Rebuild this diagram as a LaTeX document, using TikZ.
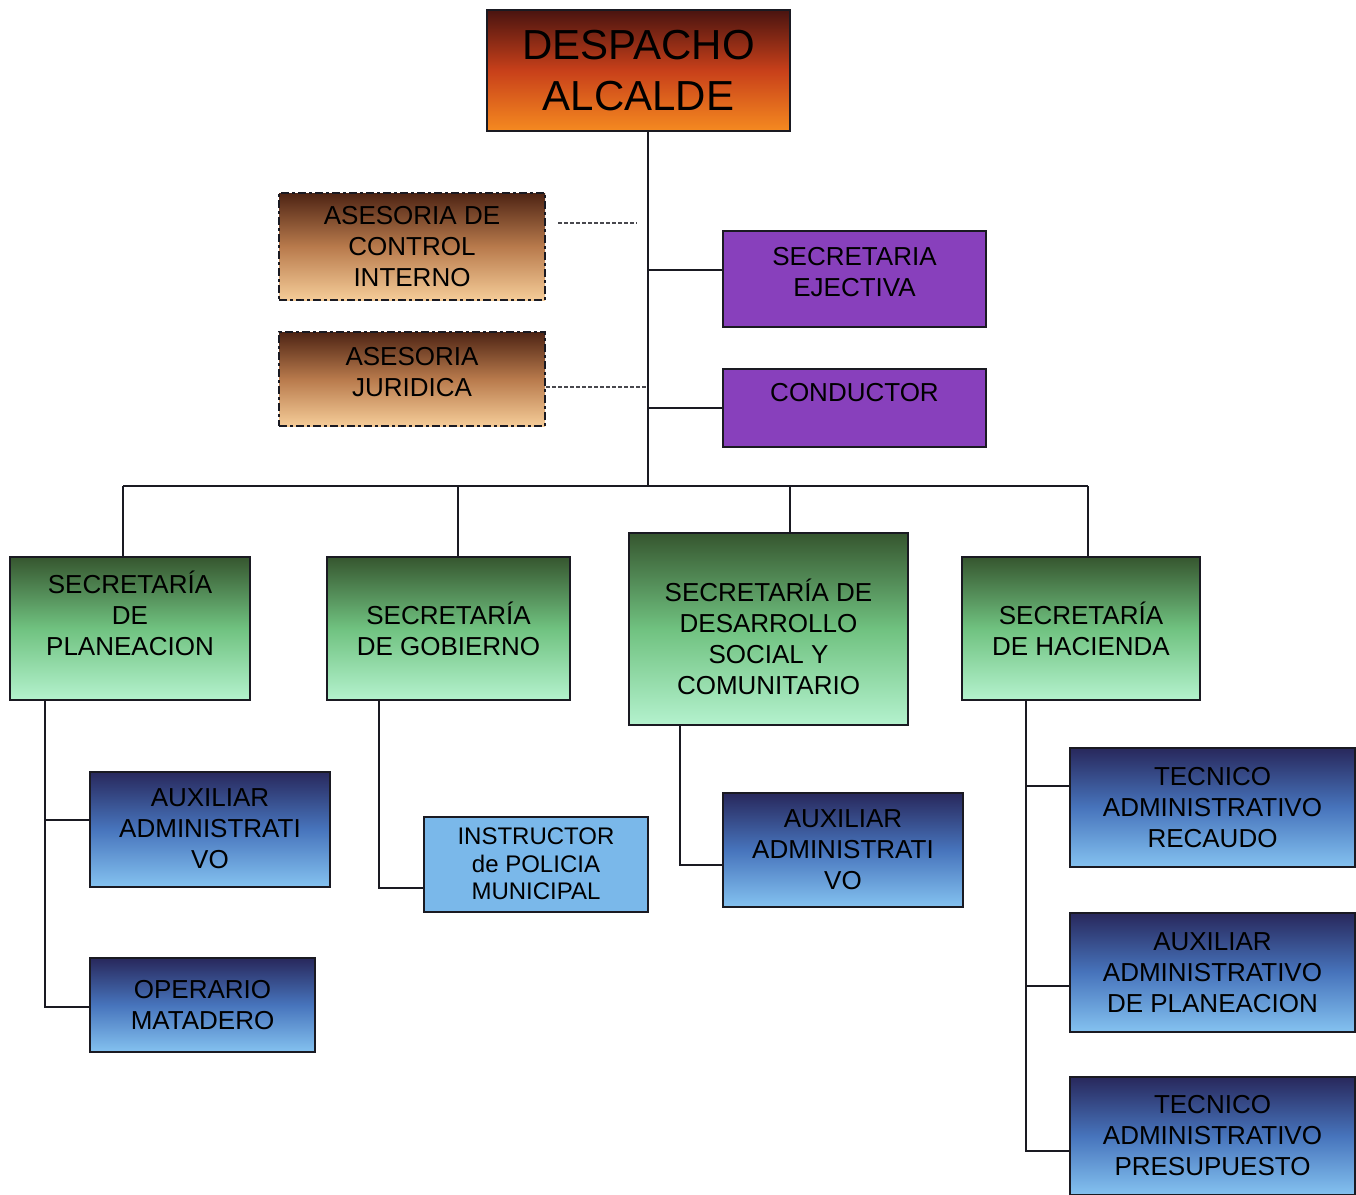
\documentclass[tikz,border=0pt]{standalone}
\usepackage{fontspec}
\setmainfont{Liberation Sans}
\definecolor{orT}{HTML}{4A1410}
\definecolor{orM}{HTML}{C8401A}
\definecolor{orB}{HTML}{F58A20}
\definecolor{brT}{HTML}{4E2414}
\definecolor{brM}{HTML}{B87A4C}
\definecolor{brB}{HTML}{F5CC98}
\definecolor{pur}{HTML}{8840BC}
\definecolor{grT}{HTML}{36562F}
\definecolor{grM}{HTML}{70C280}
\definecolor{grB}{HTML}{B4F2CE}
\definecolor{blT}{HTML}{28285C}
\definecolor{blM}{HTML}{4774BC}
\definecolor{blB}{HTML}{84C2F0}
\definecolor{blL}{HTML}{7AB8EA}
\definecolor{edge}{HTML}{1A1A22}
\begin{document}
\begin{tikzpicture}[x=0.5pt,y=-0.5pt,
  base/.style={draw=edge, line width=1pt, align=center, inner sep=0pt,
    font=\fontsize{13}{15.5}\selectfont},
  orangebox/.style={base, top color=orT, bottom color=orB, middle color=orM,
    font=\fontsize{21}{25.5}\selectfont},
  brownbox/.style={base, draw=edge, dash pattern=on 4pt off 1.5pt on 1.5pt off 1.5pt,
    top color=brT, bottom color=brB, middle color=brM},
  purplebox/.style={base, fill=pur},
  greenbox/.style={base, top color=grT, bottom color=grB, middle color=grM},
  bluebox/.style={base, top color=blT, bottom color=blB, middle color=blM},
  lightbox/.style={base, fill=blL, font=\fontsize{12}{13.75}\selectfont},
  link/.style={draw=edge, line width=1pt},
  dlink/.style={draw=edge!80, line width=0.8pt, dash pattern=on 2pt off 1pt}
]
\useasboundingbox (0,0) rectangle (1356,1195);

% top level
\node[orangebox, minimum width=151.5pt, minimum height=60.5pt] (alc) at (638.5,70.5) {DESPACHO\\ALCALDE};

% advisors
\node[brownbox, minimum width=133pt, minimum height=53.5pt] (aci) at (412,246.5) {ASESORIA DE\\CONTROL\\INTERNO};
\node[brownbox, minimum width=133pt, minimum height=47pt] (aju) at (412,379) {ASESORIA\\JURIDICA\\[-8pt]~};

% staff
\node[purplebox, minimum width=131.5pt, minimum height=48pt] (sej) at (854.5,279) {SECRETARIA\\EJECTIVA\\[-8pt]~};
\node[purplebox, minimum width=131.5pt, minimum height=39pt] (con) at (854.5,408) {CONDUCTOR\\~};

% secretariats
\node[greenbox, minimum width=120pt, minimum height=71.5pt] (plan) at (130,628.5) {SECRETARÍA\\DE\\PLANEACION\\~};
\node[greenbox, minimum width=121.5pt, minimum height=71.5pt] (gob) at (448.5,628.5) {SECRETARÍA\\DE GOBIERNO};
\node[greenbox, minimum width=139.5pt, minimum height=96pt] (des) at (768.5,629) {SECRETARÍA DE\\DESARROLLO\\SOCIAL Y\\COMUNITARIO\\[-23pt]~};
\node[greenbox, minimum width=119pt, minimum height=71.5pt] (hac) at (1081,628.5) {SECRETARÍA\\DE HACIENDA};

% staff below secretariats
\node[bluebox, minimum width=120pt, minimum height=57.5pt] (aux1) at (210,829) {AUXILIAR\\ADMINISTRATI\\VO};
\node[bluebox, minimum width=112.5pt, minimum height=47pt] (op) at (202.5,1005) {OPERARIO\\MATADERO};
\node[lightbox, minimum width=112pt, minimum height=47.5pt] (ins) at (536,864) {INSTRUCTOR\\de POLICIA\\MUNICIPAL};
\node[bluebox, minimum width=120pt, minimum height=57pt] (aux3) at (843,850) {AUXILIAR\\ADMINISTRATI\\VO};
\node[bluebox, minimum width=142.5pt, minimum height=59.5pt] (tec1) at (1212.5,807.5) {TECNICO\\ADMINISTRATIVO\\RECAUDO};
\node[bluebox, minimum width=142.5pt, minimum height=59.5pt] (aux4) at (1212.5,972.5) {AUXILIAR\\ADMINISTRATIVO\\DE PLANEACION};
\node[bluebox, minimum width=142.5pt, minimum height=59pt] (tec2) at (1212.5,1136) {TECNICO\\ADMINISTRATIVO\\PRESUPUESTO};

% trunk
\coordinate (trunk) at (648,486);
\draw[link] (alc.south -| trunk) -- (trunk);
\draw[link] ([yshift=4.5pt]sej.west) -- ([yshift=4.5pt]sej.west -| trunk);
\draw[link] (con.west) -- (con.west -| trunk);
\draw[dlink] ([yshift=-4pt]aju.east) -- ([yshift=-4pt]aju.east -| trunk);
\draw[dlink] ([xshift=6pt,yshift=11.75pt]aci.east) -- ++(79,0);

% bus
\draw[link] ([xshift=-3.5pt]plan.north |- trunk) -- ([xshift=3.5pt]hac.north |- trunk);
\draw[link] ([xshift=-3.5pt]plan.north) -- ([xshift=-3.5pt]plan.north |- trunk);
\draw[link] ([xshift=4.75pt]gob.north) -- ([xshift=4.75pt]gob.north |- trunk);
\draw[link] ([xshift=10.75pt]des.north) -- ([xshift=10.75pt]des.north |- trunk);
\draw[link] ([xshift=3.5pt]hac.north) -- ([xshift=3.5pt]hac.north |- trunk);

% children
\draw[link] ([xshift=-42.5pt]plan.south) |- ([yshift=4.5pt]aux1.west);
\draw[link] ([xshift=-42.5pt]plan.south) |- ([yshift=-1pt]op.west);
\draw[link] ([xshift=-34.75pt]gob.south) |- ([yshift=-12pt]ins.west);
\draw[link] ([xshift=-44.25pt]des.south) |- ([yshift=-7.5pt]aux3.west);
\draw[link] ([xshift=-27.5pt]hac.south) |- ([yshift=10.75pt]tec1.west);
\draw[link] ([xshift=-27.5pt]hac.south) |- ([yshift=-6.75pt]aux4.west);
\draw[link] ([xshift=-27.5pt]hac.south) |- ([yshift=-7.5pt]tec2.west);
\end{tikzpicture}
\end{document}
